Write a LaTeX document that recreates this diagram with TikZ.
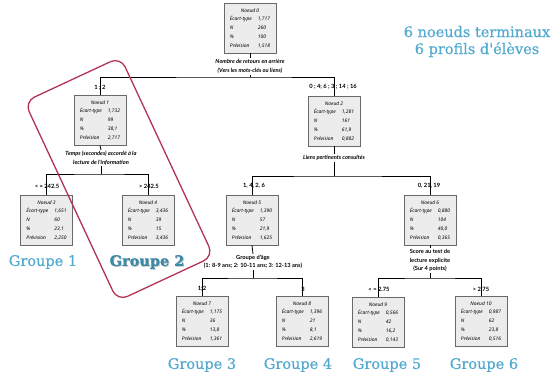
\documentclass[tikz,border=0pt]{standalone}
\usepackage{fontspec}
\setmainfont{Noto Sans}
\newfontfamily\labfont{Lato}
\newfontfamily\grpfont{DejaVu Serif}[FakeBold=0.5]
\usetikzlibrary{calc}

\definecolor{grpblue}{RGB}{82,170,208}
\definecolor{grpdark}{RGB}{58,138,168}
\definecolor{hoop}{RGB}{178,52,82}
\definecolor{boxfill}{RGB}{236,236,236}
\definecolor{boxline}{RGB}{105,105,105}

% contents of one tree node
\newcommand{\noeud}[5]{%
  \begin{tabular}{@{}p{28pt}@{}l@{}}
    \multicolumn{2}{@{}c@{}}{Noeud #1}\\
    Écart-type & #2\\
    N & #3\\
    \% & #4\\
    Prévision & #5
  \end{tabular}}

\tikzset{
  statbox/.style={draw=boxline, fill=boxfill, line width=0.8pt,
    minimum width=52pt, minimum height=50pt, inner sep=1.5pt,
    font=\itshape\fontsize{4.9}{8.8}\selectfont},
  splitlab/.style={font=\labfont\bfseries\itshape\fontsize{5.7}{8.5}\selectfont,
    align=center, inner sep=1pt},
  splitup/.style={font=\labfont\bfseries\fontsize{5.7}{8.5}\selectfont,
    align=center, inner sep=1pt},
  branchlab/.style={font=\labfont\bfseries\fontsize{5.8}{7}\selectfont, inner sep=0pt},
  grp/.style={font=\grpfont\fontsize{14.5}{17}\selectfont, text=grpblue, inner sep=0pt},
  link/.style={line width=0.8pt, black},
}

\begin{document}
\begin{tikzpicture}[x=1pt, y=-1pt]
\useasboundingbox (0,0) rectangle (557,376);

% ---- tree nodes
\node[statbox] (n0)  at (250,28)  {\noeud{0}{1,717}{260}{100}{1,518}};
\node[statbox] (n1)  at (100,120) {\noeud{1}{1,732}{99}{38,1}{2,717}};
\node[statbox] (n2)  at (334,121) {\noeud{2}{1,281}{161}{61,9}{0,882}};
\node[statbox] (n3)  at (46.5,220) {\noeud{3}{1,651}{60}{23,1}{2,250}};
\node[statbox] (n4)  at (148,220) {\noeud{4}{3,436}{39}{15}{3,436}};
\node[statbox] (n5)  at (252,220) {\noeud{5}{1,390}{57}{21,9}{1,625}};
\node[statbox] (n6)  at (430,220) {\noeud{6}{0,880}{104}{40,0}{0,365}};
\node[statbox] (n7)  at (202,321) {\noeud{7}{1,175}{36}{13,8}{1,361}};
\node[statbox] (n8)  at (302,321) {\noeud{8}{1,396}{21}{8,1}{2,619}};
\node[statbox] (n9)  at (378,322) {\noeud{9}{0,566}{42}{16,2}{0,143}};
\node[statbox] (n10) at (481,321) {\noeud{10}{0,987}{62}{23,8}{0,516}};

% ---- split variables
\node[splitlab] (s0) at (250,66.5) {Nombre de retours en arrière\\(Vers les mots-clés ou liens)};
\node[splitlab] (s1) at (101,158) {Temps (secondes) accordé à la\\lecture de l'information};
\node[splitlab] (s2) at (334,158) {Liens pertinents consultés};
\node[splitup]  (s5) at (253,262) {Groupe d'âge\\(1: 8-9 ans; 2: 10-11 ans; 3: 12-13 ans)};
\node[splitup]  (s6) at (430,260.5) {Score au test de\\lecture explicite\\(Sur 4 points)};

% ---- bars
\coordinate (b0) at (250,77);
\coordinate (b1) at (101,174);
\coordinate (b2) at (334,176);
\coordinate (b5) at (253,278);
\coordinate (b6) at (430,278);

\draw[link] (n0.south) -- (s0.north);
\draw[link] (s0.south) -- (b0);
\draw[link] (n1.north) |- (b0) -| (n2.north);
\draw[link] (n1.south) -- (s1.north);
\draw[link] (s1.south) -- (b1);
\draw[link] (n3.north) |- (b1) -| (n4.north);
\draw[link] (n2.south) -- (s2.north);
\draw[link] (s2.south) -- (b2);
\draw[link] (n5.north) |- (b2) -| (n6.north);
\draw[link] (n5.south) -- (s5.north);
\draw[link] (s5.south) -- (b5);
\draw[link] (n7.north) |- (b5) -| (n8.north);
\draw[link] (n6.south) -- (s6.north);
\draw[link] (s6.south) -- (b6);
\draw[link] (n9.north) |- (b6) -| (n10.north);

% ---- branch values
\node[branchlab] (c1)  at (100,88)  {1 ; 2};
\node[branchlab] (c2)  at (333,87)  {0 ; 4; 6 ; 3 ; 14 ; 16};
\node[branchlab] (c3)  at (47,186)  {< = 242.5};
\node[branchlab] (c4)  at (149,186) {> 242.5};
\node[branchlab] (c5)  at (254,186) {1, 4, 2, 6};
\node[branchlab] (c6)  at (429,186) {0, 21, 19};
\node[branchlab] (c7)  at (202,289) {1;2};
\node[branchlab] (c8)  at (303,289) {3};
\node[branchlab] (c9)  at (379,289) {< = 2.75};
\node[branchlab] (c10) at (481,289) {> 2.75};

% ---- terminal groups
\node[grp] (g1) at (43,262)  {Groupe 1};
\node[grp, text=black!25] (g2s) at (147.8,262.8) {\bfseries Groupe 2};
\node[grp, text=grpdark] (g2) at (147,262) {\bfseries Groupe 2};
\node[grp] (g3) at (202,365) {Groupe 3};
\node[grp] (g4) at (298,365) {Groupe 4};
\node[grp] (g5) at (387,365) {Groupe 5};
\node[grp] (g6) at (484,365) {Groupe 6};

\node[grp, align=center] (title) at (477,41.5)
  {6 noeuds terminaux\\6 profils d'élèves};

% ---- highlight around group 2
\coordinate (hT) at (120.5,57);
\coordinate (hL) at (24.5,101.7);
\coordinate (hB) at (117.5,301);
\coordinate (hR) at (213.5,256.3);
\coordinate (hM) at ($(hT)!0.5!(hL)$);
\draw[hoop, line width=1.3pt, rounded corners=11pt]
  (hM) -- (hL) -- (hB) -- (hR) -- (hT) -- cycle;
\end{tikzpicture}
\end{document}
